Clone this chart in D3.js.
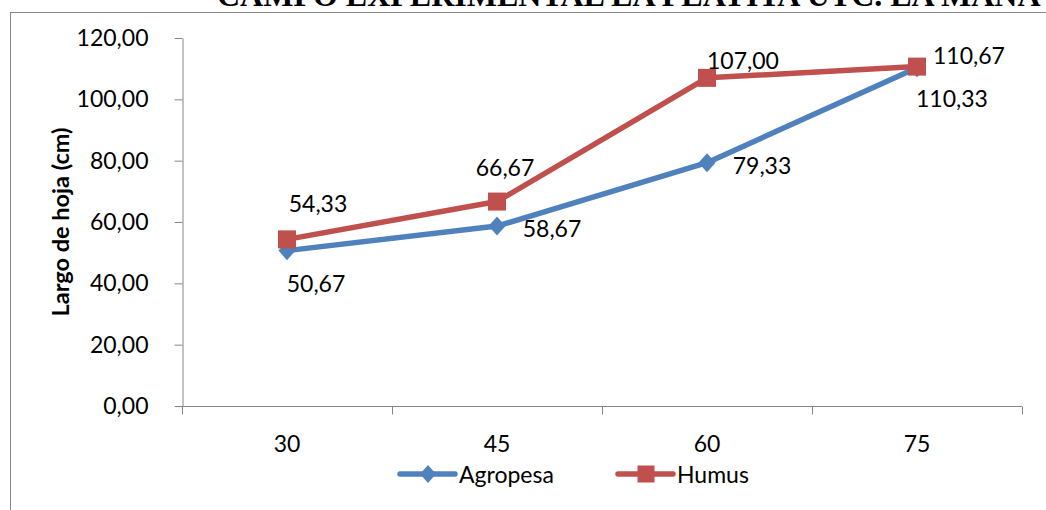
<!DOCTYPE html>
<html><head><meta charset="utf-8">
<script src="https://cdn.jsdelivr.net/npm/d3@7/dist/d3.min.js"></script>
<style>body{margin:0;background:#fff;overflow:hidden}svg{display:block}</style>
</head><body>
<svg id="c" width="1046" height="510"></svg>
<script>
const title = "CAMPO EXPERIMENTAL LA PLAYITA UTC. LA MANÁ";
const yLabel = "Largo de hoja (cm)";
const categories = ["30", "45", "60", "75"];
const agropesa = [50.67, 58.67, 79.33, 110.33];
const humus = [54.33, 66.67, 107.00, 110.67];
const yTicks = [0, 20, 40, 60, 80, 100, 120];
const seriesNames = ["Agropesa", "Humus"];

// label offsets (layout only)
const agroOffsets = [[29, 32], [55, 2], [55, 2], [35, 30]];
const humusOffsets = [[31, -36], [8, -35], [36, -18], [52, -12]];

const svg = d3.select("#c");
const font = "Lato, 'Open Sans', sans-serif";
const fs = 23;
const axisColor = "#868686";
const blue = "#4F81BD", red = "#C0504D";

// outer frame
svg.append("rect").attr("x", 10.5).attr("y", 12.5).attr("width", 1200).attr("height", 600)
  .attr("fill", "none").attr("stroke", axisColor).attr("stroke-width", 1);

svg.append("text").attr("x", 217).attr("y", 5.5)
  .attr("font-family", "'Liberation Serif', 'Times New Roman', serif").attr("font-weight", "bold")
  .attr("font-size", 32).attr("fill", "#000").text(title);

const x = d3.scaleBand().domain(categories).range([182, 1022]);
const y = d3.scaleLinear().domain([0, 120]).range([406, 38]);

const fmt = v => d3.format(".2f")(v).replace(".", ",");

// y axis
const yAxis = d3.axisLeft(y).tickValues(yTicks).tickSize(8).tickSizeOuter(0).tickFormat(fmt).tickPadding(26);
const gy = svg.append("g").attr("transform", "translate(182.5,0)").call(yAxis);
gy.select(".domain").attr("stroke", axisColor);
gy.selectAll(".tick line").attr("stroke", axisColor);
gy.selectAll(".tick text").attr("font-family", font).attr("font-size", fs).attr("fill", "#000");

// x axis
const gx = svg.append("g").attr("transform", "translate(0,406.5)");
gx.append("line").attr("x1", x.range()[0]).attr("x2", x.range()[1]).attr("stroke", axisColor);
const bounds = categories.map(c => x(c)).concat([x.range()[1]]);
gx.selectAll("line.t").data(bounds).join("line").attr("class", "t")
  .attr("x1", d => Math.round(d) + 0.5).attr("x2", d => Math.round(d) + 0.5)
  .attr("y1", 0).attr("y2", 8).attr("stroke", axisColor);
gx.selectAll("text").data(categories).join("text")
  .attr("x", d => x(d) + x.bandwidth() / 2).attr("y", 45)
  .attr("text-anchor", "middle").attr("font-family", font).attr("font-size", fs).attr("fill", "#000")
  .text(d => d);

// y label
svg.append("text").attr("transform", "translate(69,222) rotate(-90)")
  .attr("text-anchor", "middle").attr("font-family", font).attr("font-weight", "bold")
  .attr("font-size", 23.5).attr("fill", "#000").text(yLabel);

const cx = c => x(c) + x.bandwidth() / 2;
const line = d3.line().x((d, i) => cx(categories[i])).y(d => y(d));

const diamond = (g, px, py, s) => g.append("path")
  .attr("d", `M${px},${py - s * 0.56}L${px + s / 2},${py}L${px},${py + s * 0.56}L${px - s / 2},${py}Z`)
  .attr("fill", blue);
const square = (g, px, py, s) => g.append("rect")
  .attr("x", px - s / 2).attr("y", py - s / 2).attr("width", s).attr("height", s).attr("fill", red);

const plot = svg.append("g");
plot.append("path").datum(agropesa).attr("d", line).attr("fill", "none").attr("stroke", blue)
  .attr("stroke-width", 5.5).attr("stroke-linejoin", "round").attr("stroke-linecap", "round");
agropesa.forEach((v, i) => diamond(plot, cx(categories[i]), y(v), 17));
plot.append("path").datum(humus).attr("d", line).attr("fill", "none").attr("stroke", red)
  .attr("stroke-width", 5.5).attr("stroke-linejoin", "round").attr("stroke-linecap", "round");
humus.forEach((v, i) => square(plot, cx(categories[i]), y(v), 18));

const labels = svg.append("g").attr("font-family", font).attr("font-size", fs).attr("fill", "#000")
  .attr("text-anchor", "middle").attr("dominant-baseline", "central");
agropesa.forEach((v, i) => labels.append("text")
  .attr("x", cx(categories[i]) + agroOffsets[i][0]).attr("y", y(v) + agroOffsets[i][1]).text(fmt(v)));
humus.forEach((v, i) => labels.append("text")
  .attr("x", cx(categories[i]) + humusOffsets[i][0]).attr("y", y(v) + humusOffsets[i][1]).text(fmt(v)));

// legend
const lg = svg.append("g");
const legendItems = [{name: seriesNames[0], x0: 400, color: blue, m: "d"}, {name: seriesNames[1], x0: 618, color: red, m: "s"}];
legendItems.forEach(it => {
  lg.append("line").attr("x1", it.x0).attr("x2", it.x0 + 55).attr("y1", 474).attr("y2", 474)
    .attr("stroke", it.color).attr("stroke-width", 5.5).attr("stroke-linecap", "round");
  if (it.m === "d") diamond(lg, it.x0 + 28, 474, 16); else square(lg, it.x0 + 28, 474, 17);
  lg.append("text").attr("x", it.x0 + 59).attr("y", 474).attr("dominant-baseline", "central")
    .attr("font-family", font).attr("font-size", fs).attr("fill", "#000").text(it.name);
});
</script>
</body></html>
